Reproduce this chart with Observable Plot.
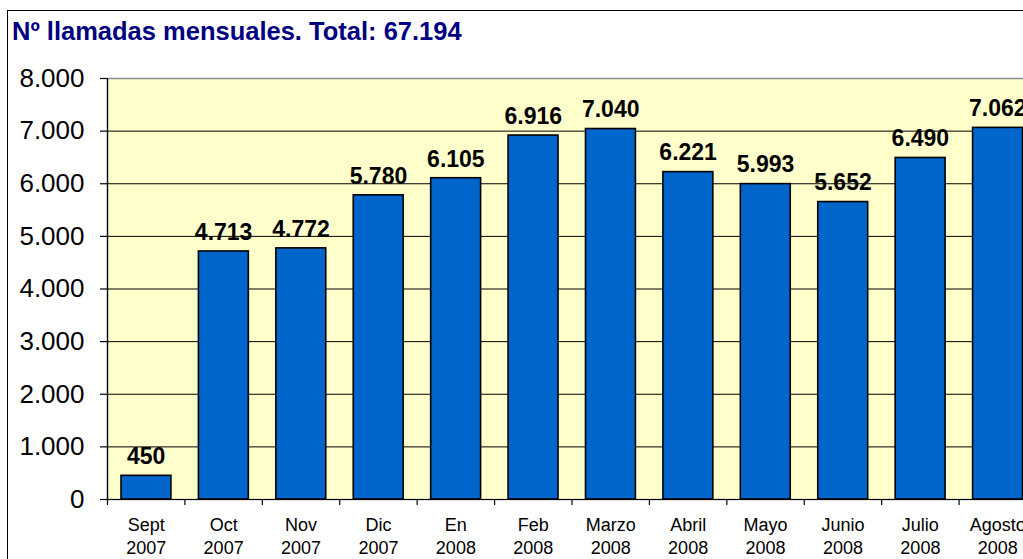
<!DOCTYPE html>
<html>
<head>
<meta charset="utf-8">
<script src="https://cdn.jsdelivr.net/npm/d3@7"></script>
<script src="https://cdn.jsdelivr.net/npm/@observablehq/plot@0.6"></script>
<style>
  html, body { margin: 0; padding: 0; background: #fff; overflow: hidden; width: 1023px; height: 559px; }
  #wrap { position: relative; width: 1023px; height: 559px; overflow: hidden; }
  #border { position: absolute; left: 7px; top: 10px; width: 1200px; height: 800px; border: 1px solid #000; box-sizing: border-box; }
  #title { position: absolute; left: 12px; top: 15px; font-family: "Liberation Sans", Arial, sans-serif; font-weight: bold; font-size: 25.5px; color: #000080; white-space: nowrap; line-height: 32px; }
  #chart { position: absolute; left: 0; top: 0; width: 1040px; height: 559px; }
  #chart svg { max-width: none !important; }
</style>
</head>
<body>
<div id="wrap">
  <div id="border"></div>
  <div id="chart"></div>
  <div id="title">Nº llamadas mensuales. Total: 67.194</div>
</div>
<script>
const months = ["Sept", "Oct", "Nov", "Dic", "En", "Feb", "Marzo", "Abril", "Mayo", "Junio", "Julio", "Agosto"];
const years = ["2007", "2007", "2007", "2007", "2008", "2008", "2008", "2008", "2008", "2008", "2008", "2008"];
const calls = [450, 4713, 4772, 5780, 6105, 6916, 7040, 6221, 5993, 5652, 6490, 7062];
const yTicks = [0, 1000, 2000, 3000, 4000, 5000, 6000, 7000, 8000];

const data = months.map((m, i) => ({i, month: m, year: years[i], value: calls[i]}));
const fmt = v => d3.format(",")(v).replace(/,/g, ".");
const bandCenters = data.map(d => d.i + 0.5);
const bandEdges = d3.range(0, months.length + 1);

const chart = Plot.plot({
  width: 1040,
  height: 559,
  marginTop: 78,
  marginBottom: 60,
  marginLeft: 107,
  marginRight: 4,
  style: {fontFamily: "Liberation Sans, Arial, sans-serif", background: "transparent", overflow: "visible", maxWidth: "none"},
  x: {domain: [0, months.length], axis: null},
  y: {domain: [0, 8000], axis: null},
  marks: [
    Plot.frame({fill: "#FFFFCC", stroke: "#8c8c8c", strokeWidth: 1.5}),
    Plot.gridY(yTicks.slice(0, -1), {stroke: "#000", strokeOpacity: 1, strokeWidth: 1}),
    Plot.rectY(data, {x1: "i", x2: d => d.i + 1, y: "value", insetLeft: 14, insetRight: 13.5, fill: "#0066CC", stroke: "#000", strokeWidth: 1.6}),
    Plot.text(data, {x: d => d.i + 0.5, y: "value", text: d => fmt(d.value), dy: -19, fontSize: 23, fontWeight: "bold", fill: "#000"}),
    Plot.axisY({ticks: yTicks, tickFormat: fmt, tickSize: 7, tickPadding: 16, fontSize: 26, stroke: "#000", fill: "#000", strokeWidth: 1.2, label: null}),
    Plot.ruleX([0], {stroke: "#000", strokeWidth: 1.2}),
    Plot.ruleY([0], {stroke: "#000", strokeWidth: 1.2}),
    Plot.axisX({ticks: bandEdges, tickFormat: () => "", tickSize: 6, stroke: "#000", strokeWidth: 1.2, label: null}),
    Plot.axisX({ticks: bandCenters, tickFormat: t => months[Math.floor(t)] + "\n" + years[Math.floor(t)], tickSize: 0, tickPadding: 15, fontSize: 18, lineHeight: 1.27, fill: "#000", label: null})
  ]
});
document.getElementById("chart").appendChild(chart);
</script>
</body>
</html>
